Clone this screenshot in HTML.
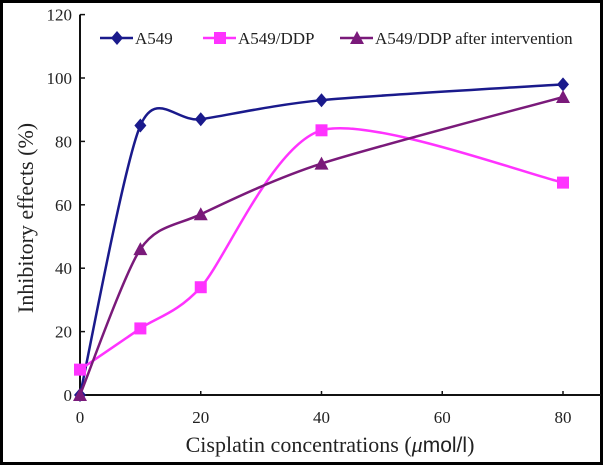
<!DOCTYPE html>
<html><head><meta charset="utf-8"><style>
html,body{margin:0;padding:0;background:#fff}
svg{display:block}
text{font-family:"Liberation Serif",serif;fill:#222}
</style></head><body>
<svg id="chart" width="603" height="465">
<rect x="1.5" y="1.5" width="600" height="462" fill="#fff" stroke="#000" stroke-width="3"/>
<g id="axes"></g><g id="series"></g>
<text x="330" y="452" text-anchor="middle" font-size="22">Cisplatin concentrations (<tspan font-style="italic">μ</tspan><tspan font-family="Liberation Sans" font-size="21">mol/l</tspan>)</text>
<text transform="translate(33,218) rotate(-90)" text-anchor="middle" font-size="22">Inhibitory effects (%)</text>
<g id="legend"></g>
</svg>
<script>
const xValues=[0,10,20,40,80];
const a549=[0,85,87,93,98];
const a549ddp=[8,21,34,83.5,67];
const intervention=[0,46,57,73,94];
const xTicks=[0,20,40,60,80];
const yTicks=[0,20,40,60,80,100,120];
const seriesNames=["A549","A549/DDP","A549/DDP after intervention"];
const NS="http://www.w3.org/2000/svg";
const X0=80,X1=563,Y0=395,Y100=78;
const xs=v=>X0+(X1-X0)*v/80;
const ys=v=>Y0-(Y0-Y100)*v/100;
function mk(t,a,p){const e=document.createElementNS(NS,t);for(const k in a)e.setAttribute(k,a[k]);(p||document.getElementById('series')).appendChild(e);return e;}
const axes=document.getElementById('axes');
let e=mk('line',{x1:X0,y1:ys(120),x2:X0,y2:Y0,stroke:'#111','stroke-width':2},axes);


e=mk('line',{x1:X0,y1:Y0,x2:601,y2:Y0,stroke:'#111','stroke-width':2},axes);


yTicks.forEach(t=>{mk('line',{x1:X0,y1:ys(t),x2:X0+5,y2:ys(t),stroke:'#111','stroke-width':1.5},axes);
 const tx=mk('text',{x:X0-8,y:ys(t)+6,'text-anchor':'end','font-size':17},axes);tx.textContent=t;
 
 });
xTicks.forEach(t=>{mk('line',{x1:xs(t),y1:Y0,x2:xs(t),y2:Y0-4,stroke:'#111','stroke-width':1.5},axes);
 const tx=mk('text',{x:xs(t),y:Y0+28,'text-anchor':'middle','font-size':17},axes);tx.textContent=t;
 
 });
function smooth(vals){const p=xValues.map((x,i)=>[xs(x),ys(vals[i])]);let d=`M${p[0][0]},${p[0][1]}`;const f=7.5;
 for(let i=0;i<p.length-1;i++){const p0=p[i-1]||p[i],p1=p[i],p2=p[i+1],p3=p[i+2]||p2;
  d+=` C${p1[0]+(p2[0]-p0[0])/f},${p1[1]+(p2[1]-p0[1])/f} ${p2[0]-(p3[0]-p1[0])/f},${p2[1]-(p3[1]-p1[1])/f} ${p2[0]},${p2[1]}`;}return d;}
function marker(type,x,y,c,g){if(type==0)return mk('polygon',{points:`${x},${y-7} ${x+6},${y} ${x},${y+7} ${x-6},${y}`,fill:c},g);
 if(type==1)return mk('rect',{x:x-6,y:y-6,width:12,height:12,fill:c},g);
 return mk('polygon',{points:`${x},${y-7} ${x+7},${y+6} ${x-7},${y+6}`,fill:c},g);}
const colors=["#1a1a8c","#ff33ff","#7a1a7a"];
[a549,a549ddp,intervention].forEach((vals,k)=>{
 const path=mk('path',{d:smooth(vals),fill:'none',stroke:colors[k],'stroke-width':2.5});
 
 
 vals.forEach((v,i)=>{const m=marker(k,xs(xValues[i]),ys(v),colors[k]);
  
  });
});
const lg=document.getElementById('legend');const lx=[100,203,340];
seriesNames.forEach((n,k)=>{mk('line',{x1:lx[k],y1:38,x2:lx[k]+33,y2:38,stroke:colors[k],'stroke-width':2.5},lg);
 marker(k,lx[k]+17,38,colors[k],lg);
 const t=mk('text',{x:lx[k]+35,y:44,'font-size':17},lg);t.textContent=n;
 
 });
</script>
</body></html>
